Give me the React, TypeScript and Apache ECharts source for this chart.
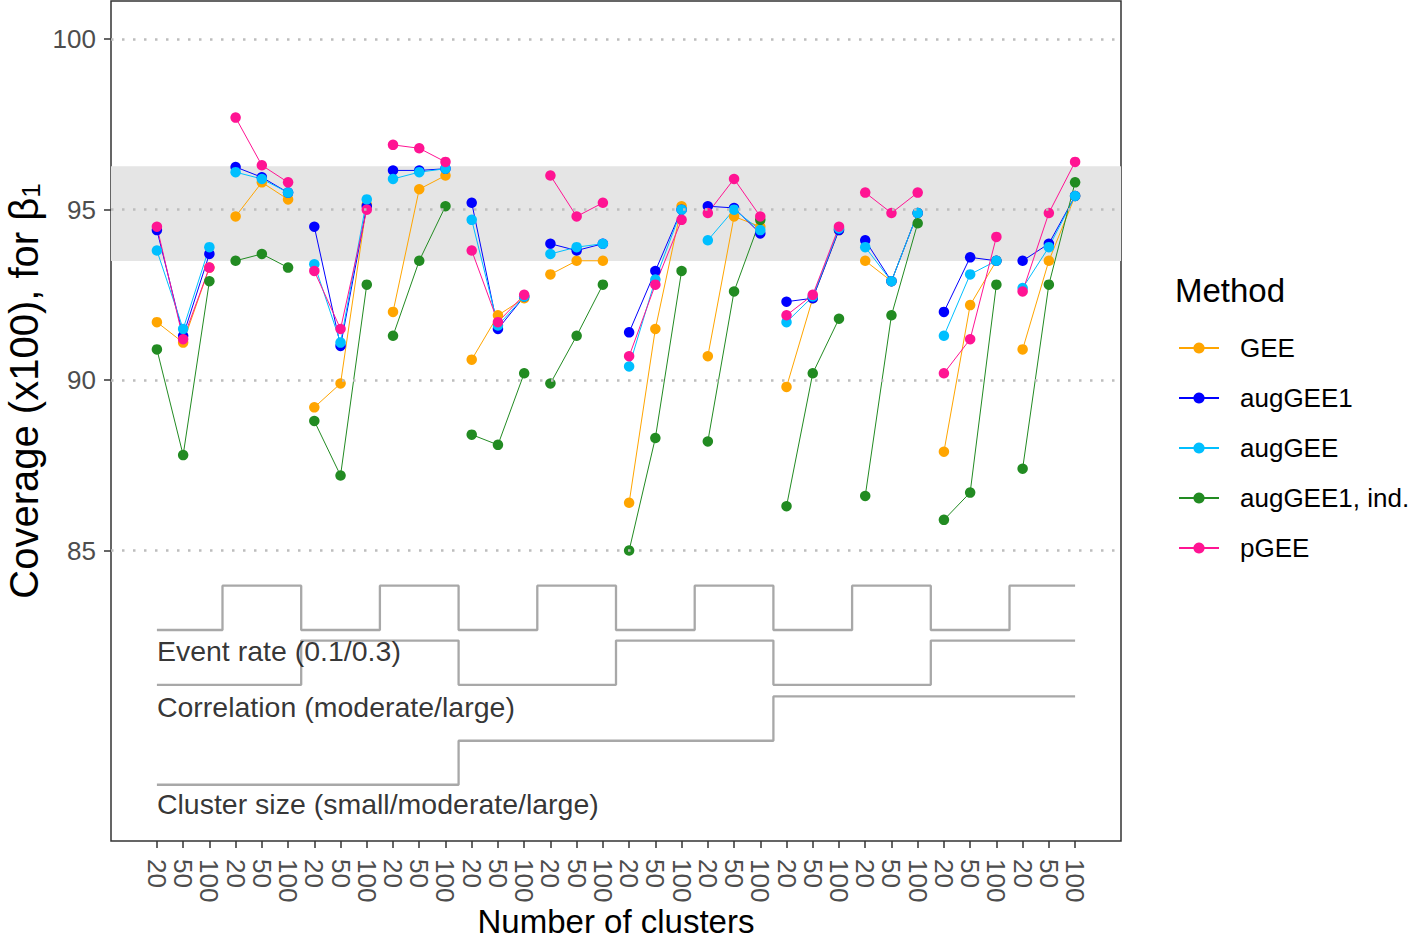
import React, { useEffect, useRef } from "react";
import * as echarts from "echarts";

// ---------- data ----------
const clusterCounts = ["20", "50", "100"];
const groupCount = 12;

const methods = ["GEE", "augGEE1", "augGEE", "augGEE1, ind.", "pGEE"];
const methodColors = ["#FFA500", "#0000FF", "#00BFFF", "#228B22", "#FF1493"];

const geeValues = [
  91.7, 91.1, 93.3, 94.8, 95.8, 95.3, 89.2, 89.9, 95.15, 92.0, 95.6, 96.0,
  90.6, 91.9, 92.4, 93.1, 93.5, 93.5, 86.4, 91.5, 95.1, 90.7, 94.8, 94.5,
  89.8, 92.4, 94.4, 93.5, 92.9, 94.9, 87.9, 92.2, 93.5, 90.9, 93.5, 95.4,
];
const augGEE1Values = [
  94.4, 91.3, 93.7, 96.25, 95.95, 95.5, 94.5, 91.0, 95.1, 96.15, 96.15, 96.2,
  95.2, 91.5, 92.45, 94.0, 93.8, 94.0, 91.4, 93.2, 95.0, 95.1, 95.05, 94.3,
  92.3, 92.4, 94.4, 94.1, 92.9, 94.9, 92.0, 93.6, 93.5, 93.5, 94.0, 95.4,
];
const augGEEValues = [
  93.8, 91.5, 93.9, 96.1, 95.9, 95.5, 93.4, 91.1, 95.3, 95.9, 96.1, 96.2,
  94.7, 91.6, 92.45, 93.7, 93.9, 94.0, 90.4, 92.95, 95.0, 94.1, 95.0, 94.4,
  91.7, 92.45, 94.45, 93.9, 92.9, 94.9, 91.3, 93.1, 93.5, 92.7, 93.9, 95.4,
];
const augGEE1IndValues = [
  90.9, 87.8, 92.9, 93.5, 93.7, 93.3, 88.8, 87.2, 92.8, 91.3, 93.5, 95.1,
  88.4, 88.1, 90.2, 89.9, 91.3, 92.8, 85.0, 88.3, 93.2, 88.2, 92.6, 94.7,
  86.3, 90.2, 91.8, 86.6, 91.9, 94.6, 85.9, 86.7, 92.8, 87.4, 92.8, 95.8,
];
const pGEEValues = [
  94.5, 91.2, 93.3, 97.7, 96.3, 95.8, 93.2, 91.5, 95.0, 96.9, 96.8, 96.4,
  93.8, 91.7, 92.5, 96.0, 94.8, 95.2, 90.7, 92.8, 94.7, 94.9, 95.9, 94.8,
  91.9, 92.5, 94.5, 95.5, 94.9, 95.5, 90.2, 91.2, 94.2, 92.6, 94.9, 96.4,
];
const methodValues = [geeValues, augGEE1Values, augGEEValues, augGEE1IndValues, pGEEValues];

// Monte-Carlo band around nominal coverage
const bandLow = 93.49;
const bandHigh = 96.27;
const yTicks = [85, 90, 95, 100];

// nested-loop step indicators (level per group of 3 points)
const eventRateLevel = [0, 1, 0, 1, 0, 1, 0, 1, 0, 1, 0, 1];
const correlationLevel = [0, 0, 1, 1, 0, 0, 1, 1, 0, 0, 1, 1];
const clusterSizeLevel = [0, 0, 0, 0, 1, 1, 1, 1, 2, 2, 2, 2];
const eventRateY = [82.67, 83.97];
const correlationY = [81.06, 82.36];
const clusterSizeY = [78.13, 79.42, 80.72];

const stepLabels = [
  "Event rate (0.1/0.3)",
  "Correlation (moderate/large)",
  "Cluster size (small/moderate/large)",
];
const stepLabelY = [82.05, 80.42, 77.56];

// ---------- helpers ----------
const FONT = "'Liberation Sans', Arial, Helvetica, sans-serif";
const nPoints = groupCount * 3;
const xIndices = Array.from({ length: nPoints }, (_, i) => i);

function methodData(values: number[]) {
  const out: any[] = [];
  for (let g = 0; g < groupCount; g++) {
    for (let k = 0; k < 3; k++) out.push([g * 3 + k, values[g * 3 + k]]);
    if (g < groupCount - 1) out.push([g * 3 + 2.5, "-"]);
  }
  return out;
}

function stepData(levels: number[], ys: number[]) {
  const out: number[][] = [];
  for (let g = 0; g < groupCount; g++) {
    const x0 = g === 0 ? 0 : g * 3 - 0.5;
    const x1 = g === groupCount - 1 ? nPoints - 1 : g * 3 + 2.5;
    const y = ys[levels[g]];
    out.push([x0, y], [x1, y]);
  }
  return out;
}

export default function App() {
  const ref = useRef<HTMLDivElement>(null);

  useEffect(() => {
    if (!ref.current) return;
    const chart = echarts.init(ref.current, null, { renderer: "svg" });

    const stepStyle = { color: "#A8A8A8", width: 2.3 };

    const option: any = {
      animation: false,
      backgroundColor: "#FFFFFF",
      textStyle: { fontFamily: FONT },
      grid: {
        left: 111,
        right: 295,
        top: 1,
        bottom: 100,
        show: true,
        borderColor: "#333333",
        borderWidth: 1.5,
        backgroundColor: "transparent",
        containLabel: false,
        outerBoundsMode: "none",
      },
      xAxis: {
        type: "value",
        min: -1.75,
        max: nPoints - 1 + 1.75,
        axisLine: { show: false, onZero: false },
        splitLine: { show: false },
        axisTick: {
          show: true,
          customValues: xIndices,
          length: 7,
          lineStyle: { color: "#333333", width: 1.5 },
        },
        axisLabel: {
          customValues: xIndices,
          formatter: (v: number) => clusterCounts[Math.round(v) % 3],
          rotate: -90,
          margin: 18,
          fontSize: 26,
          color: "#4D4D4D",
          fontFamily: FONT,
        },
      },
      yAxis: {
        type: "value",
        min: 76.48,
        max: 101.12,
        axisLine: { show: false, onZero: false },
        splitLine: { show: false },
        axisTick: {
          show: true,
          customValues: yTicks,
          length: 7,
          lineStyle: { color: "#333333", width: 1.5 },
        },
        axisLabel: {
          customValues: yTicks,
          margin: 15,
          fontSize: 26,
          color: "#4D4D4D",
          fontFamily: FONT,
        },
      },
      legend: {
        orient: "vertical",
        left: 1173,
        top: 328,
        itemWidth: 40,
        itemHeight: 14,
        itemGap: 20,
        data: methods,
        textStyle: {
          fontSize: 26,
          lineHeight: 30,
          color: "#000",
          fontFamily: FONT,
          padding: [0, 0, 0, 16],
        },
      },
      graphic: [
        {
          type: "text",
          x: 24,
          y: 391,
          rotation: Math.PI / 2,
          style: {
            text: "Coverage (x100), for β{sub|1}",
            fontSize: 40,
            fontFamily: FONT,
            fill: "#000",
            textAlign: "center",
            textVerticalAlign: "middle",
            rich: {
              sub: { fontSize: 26, fontFamily: FONT, verticalAlign: "bottom", lineHeight: 26 },
            },
          },
        },
        {
          type: "text",
          x: 616,
          y: 921,
          style: {
            text: "Number of clusters",
            fontSize: 33,
            lineHeight: 33,
            fontFamily: FONT,
            fill: "#000",
            textAlign: "center",
            textVerticalAlign: "middle",
          },
        },
        {
          type: "text",
          left: 1175,
          top: 274,
          style: { text: "Method", fontSize: 33, fontFamily: FONT, fill: "#000" },
        },
      ],
      series: [
        {
          type: "line",
          name: "_ref",
          data: [],
          silent: true,
          z: -1,
          markArea: {
            silent: true,
            itemStyle: { color: "#E5E5E5" },
            data: [[{ yAxis: bandLow }, { yAxis: bandHigh }]],
          },
          markLine: {
            silent: true,
            symbol: "none",
            label: { show: false },
            lineStyle: { type: [2.5, 8.5], color: "#BDBDBD", width: 2.5 },
            data: yTicks.map((v) => ({ yAxis: v })),
          },
        },
        {
          type: "line",
          name: "_er",
          data: stepData(eventRateLevel, eventRateY),
          showSymbol: false,
          silent: true,
          lineStyle: stepStyle,
          z: 1,
        },
        {
          type: "line",
          name: "_corr",
          data: stepData(correlationLevel, correlationY),
          showSymbol: false,
          silent: true,
          lineStyle: stepStyle,
          z: 1,
        },
        {
          type: "line",
          name: "_cs",
          data: stepData(clusterSizeLevel, clusterSizeY),
          showSymbol: false,
          silent: true,
          lineStyle: stepStyle,
          z: 1,
        },
        {
          type: "scatter",
          name: "_labels",
          data: stepLabelY.map((y) => [0, y]),
          symbolSize: 0,
          silent: true,
          z: 2,
          label: {
            show: true,
            position: "right",
            distance: 0,
            fontSize: 28.5,
            color: "#000",
            fontFamily: FONT,
            formatter: (p: any) => stepLabels[p.dataIndex],
          },
        },
        ...methods.map((m, i) => ({
          type: "line",
          name: m,
          data: methodData(methodValues[i]),
          connectNulls: false,
          symbol: "circle",
          symbolSize: 10.5,
          showAllSymbol: true,
          color: methodColors[i],
          itemStyle: { color: methodColors[i] },
          lineStyle: { color: methodColors[i], width: 1 },
          emphasis: { disabled: true },
          z: 3,
        })),
      ],
    };

    chart.setOption(option);
    return () => chart.dispose();
  }, []);

  return (
    <div
      ref={ref}
      style={{ position: "fixed", left: 0, top: 0, width: 1416, height: 941 }}
    />
  );
}
